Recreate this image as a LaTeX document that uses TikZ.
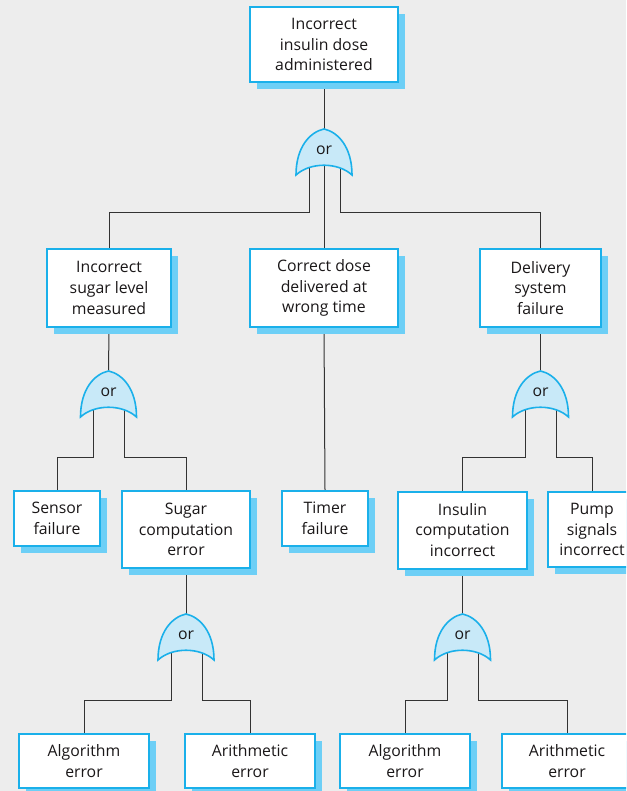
\documentclass[tikz,border=0pt]{standalone}
\usepackage{fontspec}
\setmainfont{Open Sans}
\usetikzlibrary{shadows}
\definecolor{bgc}{HTML}{EDEDED}
\definecolor{cyb}{HTML}{1AB0EA}
\definecolor{shc}{HTML}{6DCFF6}
\definecolor{gfill}{HTML}{C8E9F8}
\definecolor{txt}{HTML}{1A1718}
\definecolor{ln}{HTML}{333333}
\pgfdeclarelayer{bgl}
\pgfdeclarelayer{lines}
\pgfsetlayers{bgl,lines,main}
\newcommand\orgate[3]{%
  \path[gate] (#2-28,#3+46) .. controls (#2-28,#3+18) and (#2-14,#3+3) .. (#2,#3)
     .. controls (#2+14,#3+3) and (#2+28,#3+18) .. (#2+28,#3+46)
     .. controls (#2+14,#3+33) and (#2-14,#3+33) .. cycle;
  \node[gtext] (#1) at (#2,#3+21) {or};
  \coordinate (#1-t) at (#2,#3+2);
  \coordinate (#1-l) at (#2-15,#3+36);
  \coordinate (#1-r) at (#2+16,#3+36);
}
\begin{document}
\begin{tikzpicture}[x=1pt,y=-1pt,
  font=\fontsize{15.8}{20.8}\selectfont,
  box/.style={draw=cyb, line width=2pt, fill=white, align=center, text=txt,
    inner sep=0pt, general shadow={fill=shc, draw=none, shadow xshift=7pt, shadow yshift=-7pt}},
  gate/.style={draw=cyb, line width=1.6pt, fill=gfill},
  gtext/.style={text=txt, inner sep=0pt},
  conn/.style={draw=ln, line width=1pt}]
\useasboundingbox (0,0) rectangle (626,791);
\begin{pgfonlayer}{bgl}
\fill[bgc] (0,0) rectangle (626,791);
\end{pgfonlayer}
\clip (0,0) rectangle (626,791);

% boxes
\node[box, minimum width=148, minimum height=75] (top) at (324,44.5) {Incorrect\\insulin dose\\administered};
\node[box, minimum width=124, minimum height=78] (isl) at (109,288) {Incorrect\\sugar level\\measured};
\node[box, minimum width=148, minimum height=78] (cdw) at (324,288) {Correct dose\\delivered at\\wrong time};
\node[box, minimum width=121, minimum height=78] (dsf) at (540.5,288) {Delivery\\system\\failure};
\node[box, minimum width=86, minimum height=55] (sen) at (57,518.5) {Sensor\\failure};
\node[box, minimum width=128, minimum height=77] (scm) at (186,529.5) {Sugar\\computation\\error};
\node[box, minimum width=86, minimum height=55] (tim) at (325,518.5) {Timer\\failure};
\node[box, minimum width=129, minimum height=77] (ici) at (462.5,530) {Insulin\\computation\\incorrect};
\node[box, minimum width=88, minimum height=75] (psi) at (592,529.5) {Pump\\signals\\incorrect};
\node[box, minimum width=130, minimum height=54] (alg1) at (84,761) {Algorithm\\error};
\node[box, minimum width=130, minimum height=54] (ari1) at (250,761) {Arithmetic\\error};
\node[box, minimum width=130, minimum height=54] (alg2) at (405,761) {Algorithm\\error};
\node[box, minimum width=130, minimum height=54] (ari2) at (567,761) {Arithmetic\\error};

% gates
\orgate{g1}{324}{129}
\orgate{g2}{108.5}{371}
\orgate{g3}{540.5}{371}
\orgate{g4}{186}{614}
\orgate{g5}{462.5}{614}

\coordinate (j1) at (0,213);
\coordinate (j2) at (0,457);
\coordinate (j3) at (0,700);

% connectors
\begin{pgfonlayer}{lines}
\draw[conn] (top.south) -- (cdw.north);
\draw[conn] (g1-l) -- (g1-l |- j1) -| (isl.north);
\draw[conn] (g1-r) -- (g1-r |- j1) -| (dsf.north);
\draw[conn] (isl.south) -- (g2-t);
\draw[conn] (g2-l) -- (g2-l |- j2) -| (sen.north);
\draw[conn] (g2-r) -- (g2-r |- j2) -| (scm.north);
\draw[conn] (cdw.south) -- (tim.north);
\draw[conn] (dsf.south) -- (g3-t);
\draw[conn] (g3-l) -- (g3-l |- j2) -| (ici.north);
\draw[conn] (g3-r) -- (g3-r |- j2) -| (psi.north);
\draw[conn] (scm.south) -- (g4-t);
\draw[conn] (g4-l) -- (g4-l |- j3) -| (alg1.north);
\draw[conn] (g4-r) -- (g4-r |- j3) -| (ari1.north);
\draw[conn] (ici.south) -- (g5-t);
\draw[conn] (g5-l) -- (g5-l |- j3) -| (alg2.north);
\draw[conn] (g5-r) -- (g5-r |- j3) -| (ari2.north);
\end{pgfonlayer}
\end{tikzpicture}
\end{document}
